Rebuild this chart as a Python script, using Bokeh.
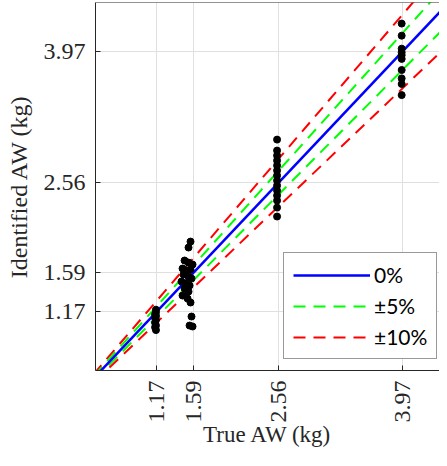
import math
from bokeh.plotting import figure
from bokeh.models import Range1d, FixedTicker, Legend, LegendItem, Span
from bokeh.embed import file_html
from bokeh.resources import INLINE

# ---- data ----
tick_values = [1.17, 1.59, 2.56, 3.97]
tick_labels = ["1.17", "1.59", "2.56", "3.97"]

# group near 1.17 kg
true_117 = [1.16, 1.16, 1.15, 1.16, 1.15, 1.16, 1.15, 1.16, 1.15, 1.16]
ident_117 = [1.19, 1.16, 1.14, 1.12, 1.10, 1.08, 1.05, 1.02, 1.00, 0.97]

# group near 1.59 kg
true_159 = [1.554, 1.531, 1.486, 1.531, 1.577, 1.463, 1.508, 1.554, 1.474, 1.531,
            1.565, 1.451, 1.497, 1.543, 1.486, 1.531, 1.463, 1.520, 1.554, 1.565,
            1.543, 1.577]
ident_159 = [1.923, 1.859, 1.719, 1.697, 1.676, 1.633, 1.611, 1.622, 1.568, 1.547,
             1.525, 1.493, 1.471, 1.450, 1.418, 1.385, 1.342, 1.310, 1.267, 1.116,
             1.019, 1.009]

# group near 2.56 kg
true_256 = [2.54] * 14
ident_256 = [3.021, 2.903, 2.849, 2.795, 2.742, 2.688, 2.634, 2.580, 2.526, 2.472,
             2.419, 2.365, 2.289, 2.193]

# group near 3.97 kg
true_397 = [3.96] * 10
ident_397 = [4.27, 4.14, 4.00, 3.96, 3.93, 3.89, 3.77, 3.68, 3.62, 3.50]

# reference lines y = (1 + k) x
line_x = [0.3, 4.8]
ref_0 = [0.3, 4.8]
ref_p5 = [0.315, 5.04]
ref_m5 = [0.285, 4.56]
ref_p10 = [0.33, 5.28]
ref_m10 = [0.27, 4.32]

all_x = true_117 + true_159 + true_256 + true_397
all_y = ident_117 + ident_159 + ident_256 + ident_397

X_START, X_END = 0.471, 4.391
Y_START, Y_END = 0.535, 4.497

SERIF = "Liberation Serif"
AX = "#262626"

p = figure(width=439, height=450,
           x_range=Range1d(X_START, X_END), y_range=Range1d(Y_START, Y_END),
           output_backend="svg", toolbar_location=None,
           min_border_left=95, min_border_right=0, min_border_top=2,
           min_border_bottom=80)
p.outline_line_color = None
p.background_fill_color = "white"
p.border_fill_color = "white"

ticker = FixedTicker(ticks=tick_values)
overrides = {v: s for v, s in zip(tick_values, tick_labels)}

for ax in (p.xaxis[0], p.yaxis[0]):
    ax.ticker = ticker
    ax.major_label_overrides = overrides
    ax.major_tick_in = 5
    ax.major_tick_out = 0
    ax.minor_tick_line_color = None
    ax.axis_line_color = AX
    ax.major_tick_line_color = AX
    ax.major_label_text_font = SERIF
    ax.major_label_text_font_size = "24px"
    ax.major_label_text_color = AX
    ax.axis_label_text_font = SERIF
    ax.axis_label_text_font_style = "normal"
    ax.axis_label_text_color = AX

p.xaxis[0].axis_label = "True AW (kg)"
p.yaxis[0].axis_label = "Identified AW (kg)"
p.xaxis[0].axis_label_text_font_size = "23px"
p.yaxis[0].axis_label_text_font_size = "24px"
p.xaxis[0].major_label_orientation = math.pi / 2
p.xaxis[0].major_label_standoff = 10
p.xaxis[0].axis_label_standoff = -4
p.yaxis[0].major_label_standoff = 10
p.yaxis[0].axis_label_standoff = 9

p.add_layout(Span(location=Y_END, dimension="width", line_color=AX, line_width=1))

p.xgrid.ticker = ticker
p.ygrid.ticker = ticker
p.xgrid.grid_line_color = "#e0e0e0"
p.ygrid.grid_line_color = "#e0e0e0"

r10a = p.line(line_x, ref_p10, line_color="#ff0000", line_width=2, line_dash="12 8")
p.line(line_x, ref_m10, line_color="#ff0000", line_width=2, line_dash="12 8")
r5a = p.line(line_x, ref_p5, line_color="#00ff00", line_width=2, line_dash="12 8")
p.line(line_x, ref_m5, line_color="#00ff00", line_width=2, line_dash="12 8")
r0 = p.line(line_x, ref_0, line_color="#0000ff", line_width=2.5)

p.scatter(all_x, all_y, size=7, fill_color="black", line_color="black")

legend = Legend(items=[LegendItem(label="0%", renderers=[r0]),
                       LegendItem(label="\u00b15%", renderers=[r5a]),
                       LegendItem(label="\u00b110%", renderers=[r10a])],
                location=(188, 11))
legend.glyph_width = 77
legend.glyph_height = 20
legend.label_height = 20
legend.spacing = 6
legend.padding = 9
legend.margin = 0
legend.label_standoff = 4
legend.label_text_font = "Lato"
legend.label_text_font_size = "21px"
legend.label_text_color = "black"
legend.border_line_color = "#333333"
legend.border_line_width = 1
legend.background_fill_alpha = 1
p.add_layout(legend, "center")

open("out.html", "w").write(file_html(p, INLINE))
